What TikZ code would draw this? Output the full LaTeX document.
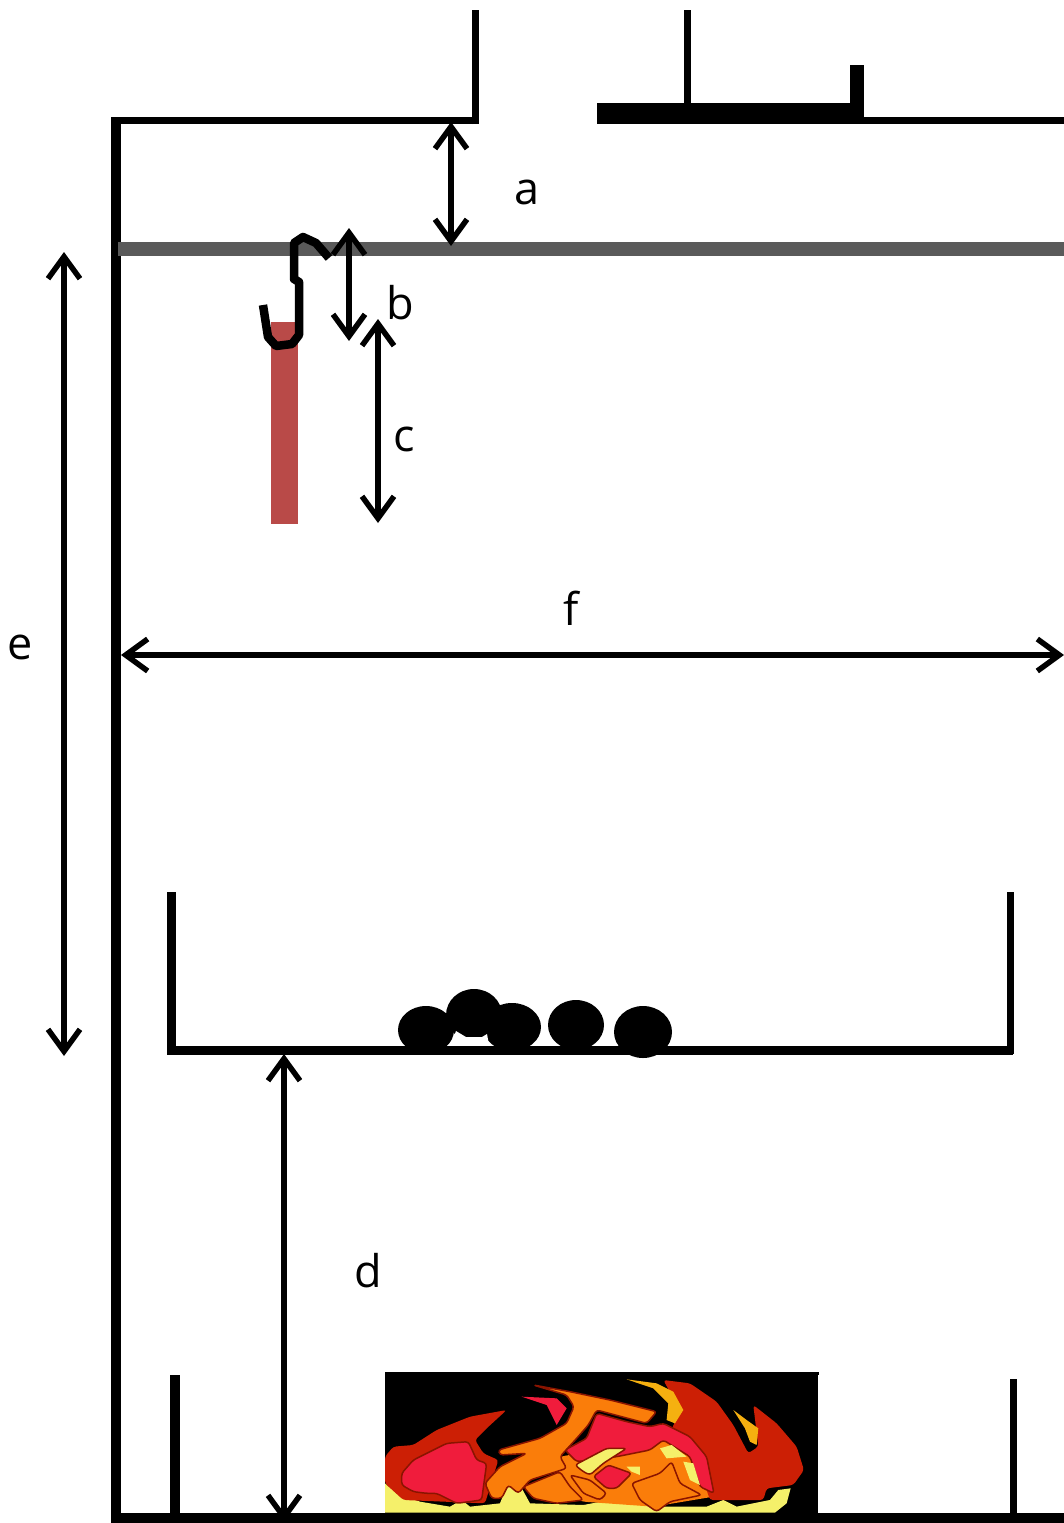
\documentclass[tikz,border=0pt]{standalone}
\usepackage{fontspec}
\setmainfont{Open Sans}
\usetikzlibrary{arrows.meta}
\definecolor{beam}{HTML}{5A5A5A}
\definecolor{strip}{HTML}{B94A48}
\definecolor{fdark}{HTML}{CC1F05}
\definecolor{fcrim}{HTML}{F01C3C}
\definecolor{forange}{HTML}{FA7D0A}
\definecolor{fyellow}{HTML}{F5F06A}
\definecolor{fgold}{HTML}{F5B010}
\definecolor{fline}{HTML}{8A1400}
\tikzset{
  wall/.style={line width=#1,draw=black,line cap=butt,line join=miter},
  dim/.style={line width=6.5pt,draw=black,{Straight Barb[length=22pt,width=32pt,line width=5.5pt]}-{Straight Barb[length=22pt,width=32pt,line width=5.5pt]}},
  lab/.style={inner sep=0pt,font=\fontsize{45}{45}\selectfont,text=black},
  ball/.style={fill=black,draw=none},
  fl/.style={draw=fline,line width=1.5pt,line join=round,rounded corners=3pt},
  fp/.style={rounded corners=3pt}
}
\begin{document}
\begin{tikzpicture}[x=1pt,y=-1pt]
\useasboundingbox (0,0) rectangle (1064,1523);
% outer housing
\fill (111,1523) rectangle (121,117);
\fill (111,117) rectangle (479,124);
\fill (121,1513) rectangle (1064,1523);
\draw[wall=7pt] (475.5,124) -- (475.5,10);
\draw[wall=7pt] (597,120.5) -- (1064,120.5);
\fill (597,103) rectangle (864,124);
\draw[wall=6.5pt] (687.5,10) -- (687.5,104);
\fill (850,65) rectangle (864,104);
% beam
\draw[line width=14pt,draw=beam] (118,248.5) -- (1064,248.5);
% strip
\fill[strip] (271,322) rectangle (298,524);
% hook
\draw[line width=8.5pt,line join=round,line cap=butt] (329,258) -- (316,243) -- (303,237) -- (294,243) -- (294,279) -- (299,282) -- (299,335) -- (292,344) -- (276,346) -- (268,337) -- (263,305);
% pan
\draw[wall=9pt] (171,892) -- (171,1050) -- (1013,1050);
\draw[wall=7pt] (1010,1054) -- (1010,892);
\draw[wall=10pt] (175,1375) -- (175,1514);
\draw[wall=7pt] (1013,1379) -- (1013,1514);
% balls
\fill[ball] (426,1030) ellipse (28 and 24);
\fill[ball] (474,1015) ellipse (28 and 26);
\fill[ball] (512,1027) ellipse (29 and 24);
\fill[ball] (576,1025) ellipse (28 and 25);
\fill[ball] (643,1032) ellipse (29 and 26);
\fill[white] (451,1045) -- (456,1031) -- (466,1037) -- (482,1037) -- (487,1034) -- (489,1045) -- cycle;
\fill[white] (537,1045) -- (541,1040) -- (547,1040) -- (555,1045) -- cycle;
\fill[white] (600,1045) -- (605,1040) -- (612,1040) -- (618,1045) -- cycle;
% flame
\begin{scope}[shift={(370,1360)},x=0.3333pt,y=-0.3333pt]
\fill[black] (45,36) rectangle (1345,470);
\fill[fyellow] (45,370) -- (80,400) -- (150,425) -- (240,440) -- (275,420) -- (300,440) -- (390,430) -- (410,380) -- (450,375) -- (480,430) -- (640,435) -- (720,420) -- (760,395) -- (850,440) -- (1010,440) -- (1060,420) -- (1100,440) -- (1200,420) -- (1225,390) -- (1262,385) -- (1250,430) -- (1215,458) -- (45,458) -- cycle;
% underlay
\fill[fp,fill=forange] (570,290) -- (880,235) -- (960,290) -- (1030,410) -- (850,440) -- (640,425) -- (560,400) -- cycle;
\fill[fp,fill=fdark] (45,290) -- (70,260) -- (130,255) -- (200,210) -- (300,170) -- (410,150) -- (350,205) -- (315,240) -- (340,280) -- (385,300) -- (345,430) -- (100,420) -- (45,370) -- cycle;
\draw[fl,fill=fcrim] (95,340) -- (130,300) -- (230,250) -- (295,245) -- (320,300) -- (350,310) -- (335,420) -- (260,430) -- (200,400) -- (170,400) -- (130,395) -- (95,375) -- cycle;
\fill[fcrim] (455,110) -- (560,115) -- (590,145) -- (560,195) -- (530,135) -- cycle;
% right red mass
\fill[fp,fill=fdark] (880,60) -- (960,70) -- (1040,125) -- (1090,195) -- (1135,280) -- (1165,260) -- (1150,135) -- (1220,190) -- (1280,260) -- (1302,330) -- (1270,375) -- (1190,385) -- (1180,420) -- (1020,420) -- (980,300) -- (900,220) -- (930,150) -- cycle;
\fill[fgold] (1090,150) -- (1130,180) -- (1165,205) -- (1160,255) -- (1140,245) -- (1125,205) -- cycle;
% orange main
\draw[fl,fill=forange] (490,75) -- (600,95) -- (720,120) -- (860,155) -- (830,190) -- (680,150) -- (655,195) -- (620,235) -- (570,290) -- (590,325) -- (480,360) -- (445,400) -- (415,375) -- (395,415) -- (365,415) -- (345,370) -- (390,320) -- (470,280) -- (390,285) -- (385,270) -- (510,235) -- (590,190) -- (612,140) -- (590,105) -- cycle;
\fill[fgold] (770,58) -- (860,70) -- (910,95) -- (940,150) -- (915,190) -- (890,180) -- (895,130) -- (850,85) -- cycle;
% centre crimson
\draw[fl,fill=fcrim] (680,160) -- (770,185) -- (840,200) -- (880,190) -- (960,230) -- (1010,290) -- (1032,400) -- (990,380) -- (960,290) -- (880,240) -- (840,270) -- (740,290) -- (620,305) -- (585,270) -- (650,235) -- cycle;
% lower orange pieces
\draw[fl,fill=forange] (460,380) -- (570,335) -- (600,380) -- (640,420) -- (560,430) -- (490,415) -- cycle;
\draw[fl,fill=forange] (600,345) -- (660,360) -- (710,400) -- (690,420) -- (640,400) -- cycle;
\draw[fl,fill=fcrim] (670,350) -- (715,315) -- (785,340) -- (740,385) -- (710,385) -- cycle;
\draw[fl,fill=fyellow] (615,315) -- (710,265) -- (770,265) -- (700,310) -- (660,345) -- (640,335) -- cycle;
\draw[fl,fill=forange] (785,370) -- (870,340) -- (905,305) -- (930,370) -- (995,405) -- (900,425) -- (860,455) -- (810,420) -- cycle;
\fill[fyellow] (870,265) -- (905,255) -- (950,290) -- (890,295) -- cycle;
\fill[fyellow] (940,305) -- (970,310) -- (990,375) -- (960,360) -- cycle;
\fill[fyellow] (770,320) -- (810,320) -- (810,345) -- (785,335) -- cycle;
\end{scope}
\fill (385,1372) rectangle (819,1375);
\fill (385,1513) rectangle (819,1523);
% dimension points
\coordinate (a1) at (451,122);
\coordinate (a2) at (451,246);
\coordinate (b1) at (349,228);
\coordinate (b2) at (349,341);
\coordinate (c1) at (378,319);
\coordinate (c2) at (378,523);
\coordinate (d1) at (284,1054);
\coordinate (d2) at (284,1522);
\coordinate (e1) at (64,252);
\coordinate (e2) at (64,1056);
\coordinate (f1) at (121,655);
\coordinate (f2) at (1064,655);
\draw[dim] (a1) -- (a2);
\draw[dim] (b1) -- (b2);
\draw[dim] (c1) -- (c2);
\draw[dim] (d1) -- (d2);
\draw[dim] (e1) -- (e2);
\draw[dim] (f1) -- (f2);
% labels
\node[lab,anchor=base] (la) at (527,204) {a};
\node[lab,anchor=base] (lb) at (400,319) {b};
\node[lab,anchor=base] (lc) at (404,451) {c};
\node[lab,anchor=base] (ld) at (368,1287) {d};
\node[lab,anchor=base] (le) at (20,659) {e};
\node[lab,anchor=base] (lf) at (571,625) {f};
\end{tikzpicture}
\end{document}
